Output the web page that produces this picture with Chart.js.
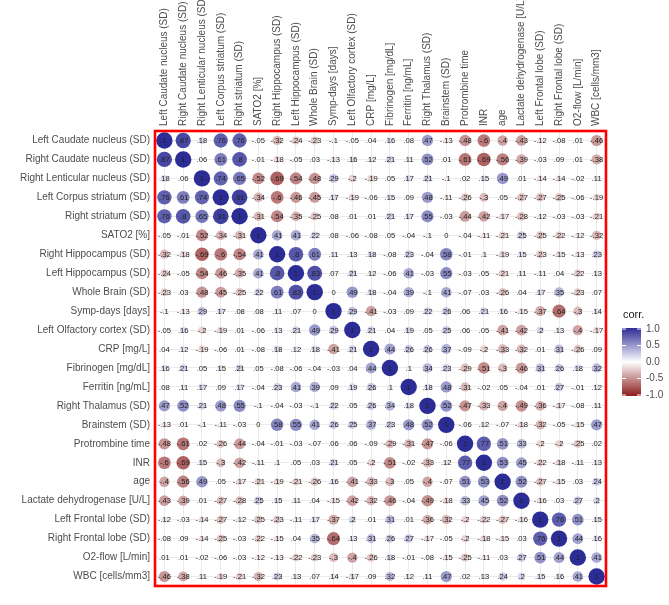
<!DOCTYPE html>
<html>
<head>
<meta charset="utf-8">
<script src="https://cdn.jsdelivr.net/npm/chart.js@4/dist/chart.umd.min.js"></script>
<style>
html,body{margin:0;padding:0;background:#ffffff;}
#wrap{width:669px;height:605px;position:relative;}
</style>
</head>
<body>
<div id="wrap"><canvas id="c" width="669" height="605"></canvas></div>
<script>
const variables = [
  "Left Caudate nucleus (SD)", "Right Caudate nucleus (SD)", "Right Lenticular nucleus (SD)",
  "Left Corpus striatum (SD)", "Right striatum (SD)", "SATO2 [%]", "Right Hippocampus (SD)",
  "Left Hippocampus (SD)", "Whole Brain (SD)", "Symp-days [days]", "Left Olfactory cortex (SD)",
  "CRP [mg/L]", "Fibrinogen [mg/dL]", "Ferritin [ng/mL]", "Right Thalamus (SD)", "Brainstem (SD)",
  "Protrombine time", "INR", "age", "Lactate dehydrogenase [U/L]", "Left Frontal lobe (SD)",
  "Right Frontal lobe (SD)", "O2-flow [L/min]", "WBC [cells/mm3]"
];

const corrRows = [
  [1, 0.87, 0.18, 0.76, 0.76, -0.05, -0.32, -0.24, -0.23, -0.1, -0.05, 0.04, 0.16, 0.08, 0.47, -0.13, -0.48, -0.6, -0.4, -0.43, -0.12, -0.08, 0.01, -0.46],
  [0.87, 1, 0.06, 0.61, 0.8, -0.01, -0.18, -0.05, 0.03, -0.13, 0.16, 0.12, 0.21, 0.11, 0.52, 0.01, -0.61, -0.69, -0.56, -0.39, -0.03, 0.09, 0.01, -0.38],
  [0.18, 0.06, 1, 0.74, 0.65, -0.52, -0.69, -0.54, -0.48, 0.29, -0.2, -0.19, 0.05, 0.17, 0.21, -0.1, 0.02, 0.15, 0.49, 0.01, -0.14, -0.14, -0.02, 0.11],
  [0.76, 0.61, 0.74, 1, 0.91, -0.34, -0.6, -0.46, -0.45, 0.17, -0.19, -0.06, 0.15, 0.09, 0.48, -0.11, -0.26, -0.3, 0.05, -0.27, -0.27, -0.25, -0.06, -0.19],
  [0.76, 0.8, 0.65, 0.91, 1, -0.31, -0.54, -0.35, -0.25, 0.08, 0.01, 0.01, 0.21, 0.17, 0.55, -0.03, -0.44, -0.42, -0.17, -0.28, -0.12, -0.03, -0.03, -0.21],
  [-0.05, -0.01, -0.52, -0.34, -0.31, 1, 0.41, 0.41, 0.22, 0.08, -0.06, -0.08, 0.05, -0.04, -0.1, 0, -0.04, -0.11, -0.21, 0.25, -0.25, -0.22, -0.12, -0.32],
  [-0.32, -0.18, -0.69, -0.6, -0.54, 0.41, 1, 0.8, 0.61, 0.11, 0.13, 0.18, -0.08, 0.23, -0.04, 0.58, -0.01, 0.1, -0.19, 0.15, -0.23, -0.15, -0.13, 0.23],
  [-0.24, -0.05, -0.54, -0.46, -0.35, 0.41, 0.8, 1, 0.83, 0.07, 0.21, 0.12, -0.06, 0.41, -0.03, 0.55, -0.03, 0.05, -0.21, 0.11, -0.11, 0.04, -0.22, 0.13],
  [-0.23, 0.03, -0.48, -0.45, -0.25, 0.22, 0.61, 0.83, 1, 0, 0.49, 0.18, -0.04, 0.39, -0.1, 0.41, -0.07, 0.03, -0.26, 0.04, 0.17, 0.35, -0.23, 0.07],
  [-0.1, -0.13, 0.29, 0.17, 0.08, 0.08, 0.11, 0.07, 0, 1, 0.29, -0.41, -0.03, 0.09, 0.22, 0.26, 0.06, 0.21, 0.16, -0.15, -0.37, -0.64, -0.3, 0.14],
  [-0.05, 0.16, -0.2, -0.19, 0.01, -0.06, 0.13, 0.21, 0.49, 0.29, 1, 0.21, 0.04, 0.19, 0.05, 0.25, 0.06, 0.05, -0.41, -0.42, 0.2, 0.13, -0.4, -0.17],
  [0.04, 0.12, -0.19, -0.06, 0.01, -0.08, 0.18, 0.12, 0.18, -0.41, 0.21, 1, 0.44, 0.26, 0.26, 0.37, -0.09, -0.2, -0.33, -0.32, 0.01, 0.31, -0.26, 0.09],
  [0.16, 0.21, 0.05, 0.15, 0.21, 0.05, -0.08, -0.06, -0.04, -0.03, 0.04, 0.44, 1, 0.1, 0.34, 0.23, -0.29, -0.51, -0.3, -0.46, 0.31, 0.26, 0.18, 0.32],
  [0.08, 0.11, 0.17, 0.09, 0.17, -0.04, 0.23, 0.41, 0.39, 0.09, 0.19, 0.26, 0.1, 1, 0.18, 0.48, -0.31, -0.02, 0.05, -0.04, 0.01, 0.27, -0.01, 0.12],
  [0.47, 0.52, 0.21, 0.48, 0.55, -0.1, -0.04, -0.03, -0.1, 0.22, 0.05, 0.26, 0.34, 0.18, 1, 0.52, -0.47, -0.33, -0.4, -0.49, -0.36, -0.17, -0.08, 0.11],
  [-0.13, 0.01, -0.1, -0.11, -0.03, 0, 0.58, 0.55, 0.41, 0.26, 0.25, 0.37, 0.23, 0.48, 0.52, 1, -0.06, 0.12, -0.07, -0.18, -0.32, -0.05, -0.15, 0.47],
  [-0.48, -0.61, 0.02, -0.26, -0.44, -0.04, -0.01, -0.03, -0.07, 0.06, 0.06, -0.09, -0.29, -0.31, -0.47, -0.06, 1, 0.77, 0.51, 0.33, -0.2, -0.2, -0.25, 0.02],
  [-0.6, -0.69, 0.15, -0.3, -0.42, -0.11, 0.1, 0.05, 0.03, 0.21, 0.05, -0.2, -0.51, -0.02, -0.33, 0.12, 0.77, 1, 0.53, 0.45, -0.22, -0.18, -0.11, 0.13],
  [-0.4, -0.56, 0.49, 0.05, -0.17, -0.21, -0.19, -0.21, -0.26, 0.16, -0.41, -0.33, -0.3, 0.05, -0.4, -0.07, 0.51, 0.53, 1, 0.52, -0.27, -0.15, 0.03, 0.24],
  [-0.43, -0.39, 0.01, -0.27, -0.28, 0.25, 0.15, 0.11, 0.04, -0.15, -0.42, -0.32, -0.46, -0.04, -0.49, -0.18, 0.33, 0.45, 0.52, 1, -0.16, 0.03, 0.27, 0.2],
  [-0.12, -0.03, -0.14, -0.27, -0.12, -0.25, -0.23, -0.11, 0.17, -0.37, 0.2, 0.01, 0.31, 0.01, -0.36, -0.32, -0.2, -0.22, -0.27, -0.16, 1, 0.76, 0.51, 0.15],
  [-0.08, 0.09, -0.14, -0.25, -0.03, -0.22, -0.15, 0.04, 0.35, -0.64, 0.13, 0.31, 0.26, 0.27, -0.17, -0.05, -0.2, -0.18, -0.15, 0.03, 0.76, 1, 0.44, 0.16],
  [0.01, 0.01, -0.02, -0.06, -0.03, -0.12, -0.13, -0.22, -0.23, -0.3, -0.4, -0.26, 0.18, -0.01, -0.08, -0.15, -0.25, -0.11, 0.03, 0.27, 0.51, 0.44, 1, 0.41],
  [-0.46, -0.38, 0.11, -0.19, -0.21, -0.32, 0.23, 0.13, 0.07, 0.14, -0.17, 0.09, 0.32, 0.12, 0.11, 0.47, 0.02, 0.13, 0.24, 0.2, 0.15, 0.16, 0.41, 1]
];

const legendTicks = [1.0, 0.5, 0.0, -0.5, -1.0];
const legendTitle = "corr.";

const HI = [44, 44, 150];
const LO = [139, 28, 28];
function corrColor(v) {
  const e = v >= 0 ? HI : LO;
  const t = Math.min(1, Math.abs(v));
  const c = [0, 1, 2].map(i => Math.round(255 + (e[i] - 255) * t));
  return `rgb(${c[0]},${c[1]},${c[2]})`;
}
function fmt(v) {
  if (v === 1) return "1";
  if (v === 0) return "0";
  const s = String(Math.abs(v)).replace(/^0/, "");
  return (v < 0 ? "-" : "") + s;
}

const points = [];
corrRows.forEach((row, i) => {
  row.forEach((v, j) => points.push({ x: j + 1, y: i + 1, v: v }));
});

const FONT = '"Liberation Sans", Arial, sans-serif';

const cellLabels = {
  id: "cellLabels",
  afterDatasetsDraw(chart) {
    const ctx = chart.ctx;
    const meta = chart.getDatasetMeta(0);
    const data = chart.data.datasets[0].data;
    ctx.save();
    ctx.font = "7.6px " + FONT;
    ctx.textAlign = "center";
    ctx.textBaseline = "middle";
    ctx.fillStyle = "#222222";
    meta.data.forEach((el, k) => {
      ctx.fillText(fmt(data[k].v), el.x, el.y + 0.5);
    });
    ctx.restore();
  }
};

const panelBorder = {
  id: "panelBorder",
  afterDraw(chart) {
    const { left, top, right, bottom } = chart.chartArea;
    const ctx = chart.ctx;
    ctx.save();
    ctx.strokeStyle = "#ff0000";
    ctx.lineWidth = 2.6;
    ctx.strokeRect(left, top, right - left, bottom - top);
    ctx.restore();
  }
};

const colorBar = {
  id: "colorBar",
  afterDraw(chart) {
    const ctx = chart.ctx;
    const bx = 622, bw = 19, by = 328, bh = 68;
    ctx.save();
    ctx.fillStyle = "#1a1a1a";
    ctx.font = "11px " + FONT;
    ctx.textAlign = "left";
    ctx.textBaseline = "middle";
    ctx.fillText(legendTitle, 623, 315);
    const g = ctx.createLinearGradient(0, by, 0, by + bh);
    g.addColorStop(0, corrColor(1));
    g.addColorStop(0.5, "#ffffff");
    g.addColorStop(1, corrColor(-1));
    ctx.fillStyle = g;
    ctx.fillRect(bx, by, bw, bh);
    ctx.strokeStyle = "#ffffff";
    ctx.lineWidth = 1;
    ctx.font = "10px " + FONT;
    ctx.fillStyle = "#4d4d4d";
    legendTicks.forEach(t => {
      const y = by + 1 + (1 - t) / 2 * (bh - 2);
      ctx.beginPath();
      ctx.moveTo(bx, y); ctx.lineTo(bx + 4, y);
      ctx.moveTo(bx + bw - 4, y); ctx.lineTo(bx + bw, y);
      ctx.stroke();
      ctx.fillText(t.toFixed(1), bx + bw + 5, y);
    });
    ctx.restore();
  }
};

const tickList = variables.map((_, i) => ({ value: i + 1 }));

new Chart(document.getElementById("c"), {
  type: "bubble",
  data: {
    datasets: [{
      data: points,
      backgroundColor: ctx => corrColor(ctx.raw.v),
      borderWidth: 0,
      radius: ctx => 8.2 * Math.sqrt(Math.abs(ctx.raw.v)),
      hoverRadius: 0
    }]
  },
  options: {
    responsive: false,
    devicePixelRatio: 1,
    animation: false,
    events: [],
    layout: { padding: { left: 0, top: 0, right: 63, bottom: 19 } },
    plugins: { legend: { display: false }, tooltip: { enabled: false } },
    scales: {
      x: {
        type: "linear",
        position: "top",
        min: 0.5, max: 24.5,
        afterBuildTicks: s => { s.ticks = tickList.map(t => ({ value: t.value })); },
        afterFit: s => { s.height = 131; },
        grid: { color: "#ebebeb", lineWidth: 1, drawTicks: false },
        border: { display: false },
        ticks: {
          autoSkip: false, minRotation: 90, maxRotation: 90, padding: 5, labelOffset: 12,
          font: { family: FONT, size: 10 }, color: "#4d4d4d",
          callback: v => variables[Math.round(v) - 1] || ""
        }
      },
      y: {
        type: "linear",
        position: "left",
        reverse: true,
        min: 0.5, max: 24.5,
        afterBuildTicks: s => { s.ticks = tickList.map(t => ({ value: t.value })); },
        afterFit: s => { s.width = 155; },
        grid: { color: "#ebebeb", lineWidth: 1, drawTicks: false },
        border: { display: false },
        ticks: {
          autoSkip: false, padding: 5,
          font: { family: FONT, size: 10 }, color: "#4d4d4d",
          callback: v => variables[Math.round(v) - 1] || ""
        }
      }
    }
  },
  plugins: [cellLabels, panelBorder, colorBar]
});
</script>
</body>
</html>
